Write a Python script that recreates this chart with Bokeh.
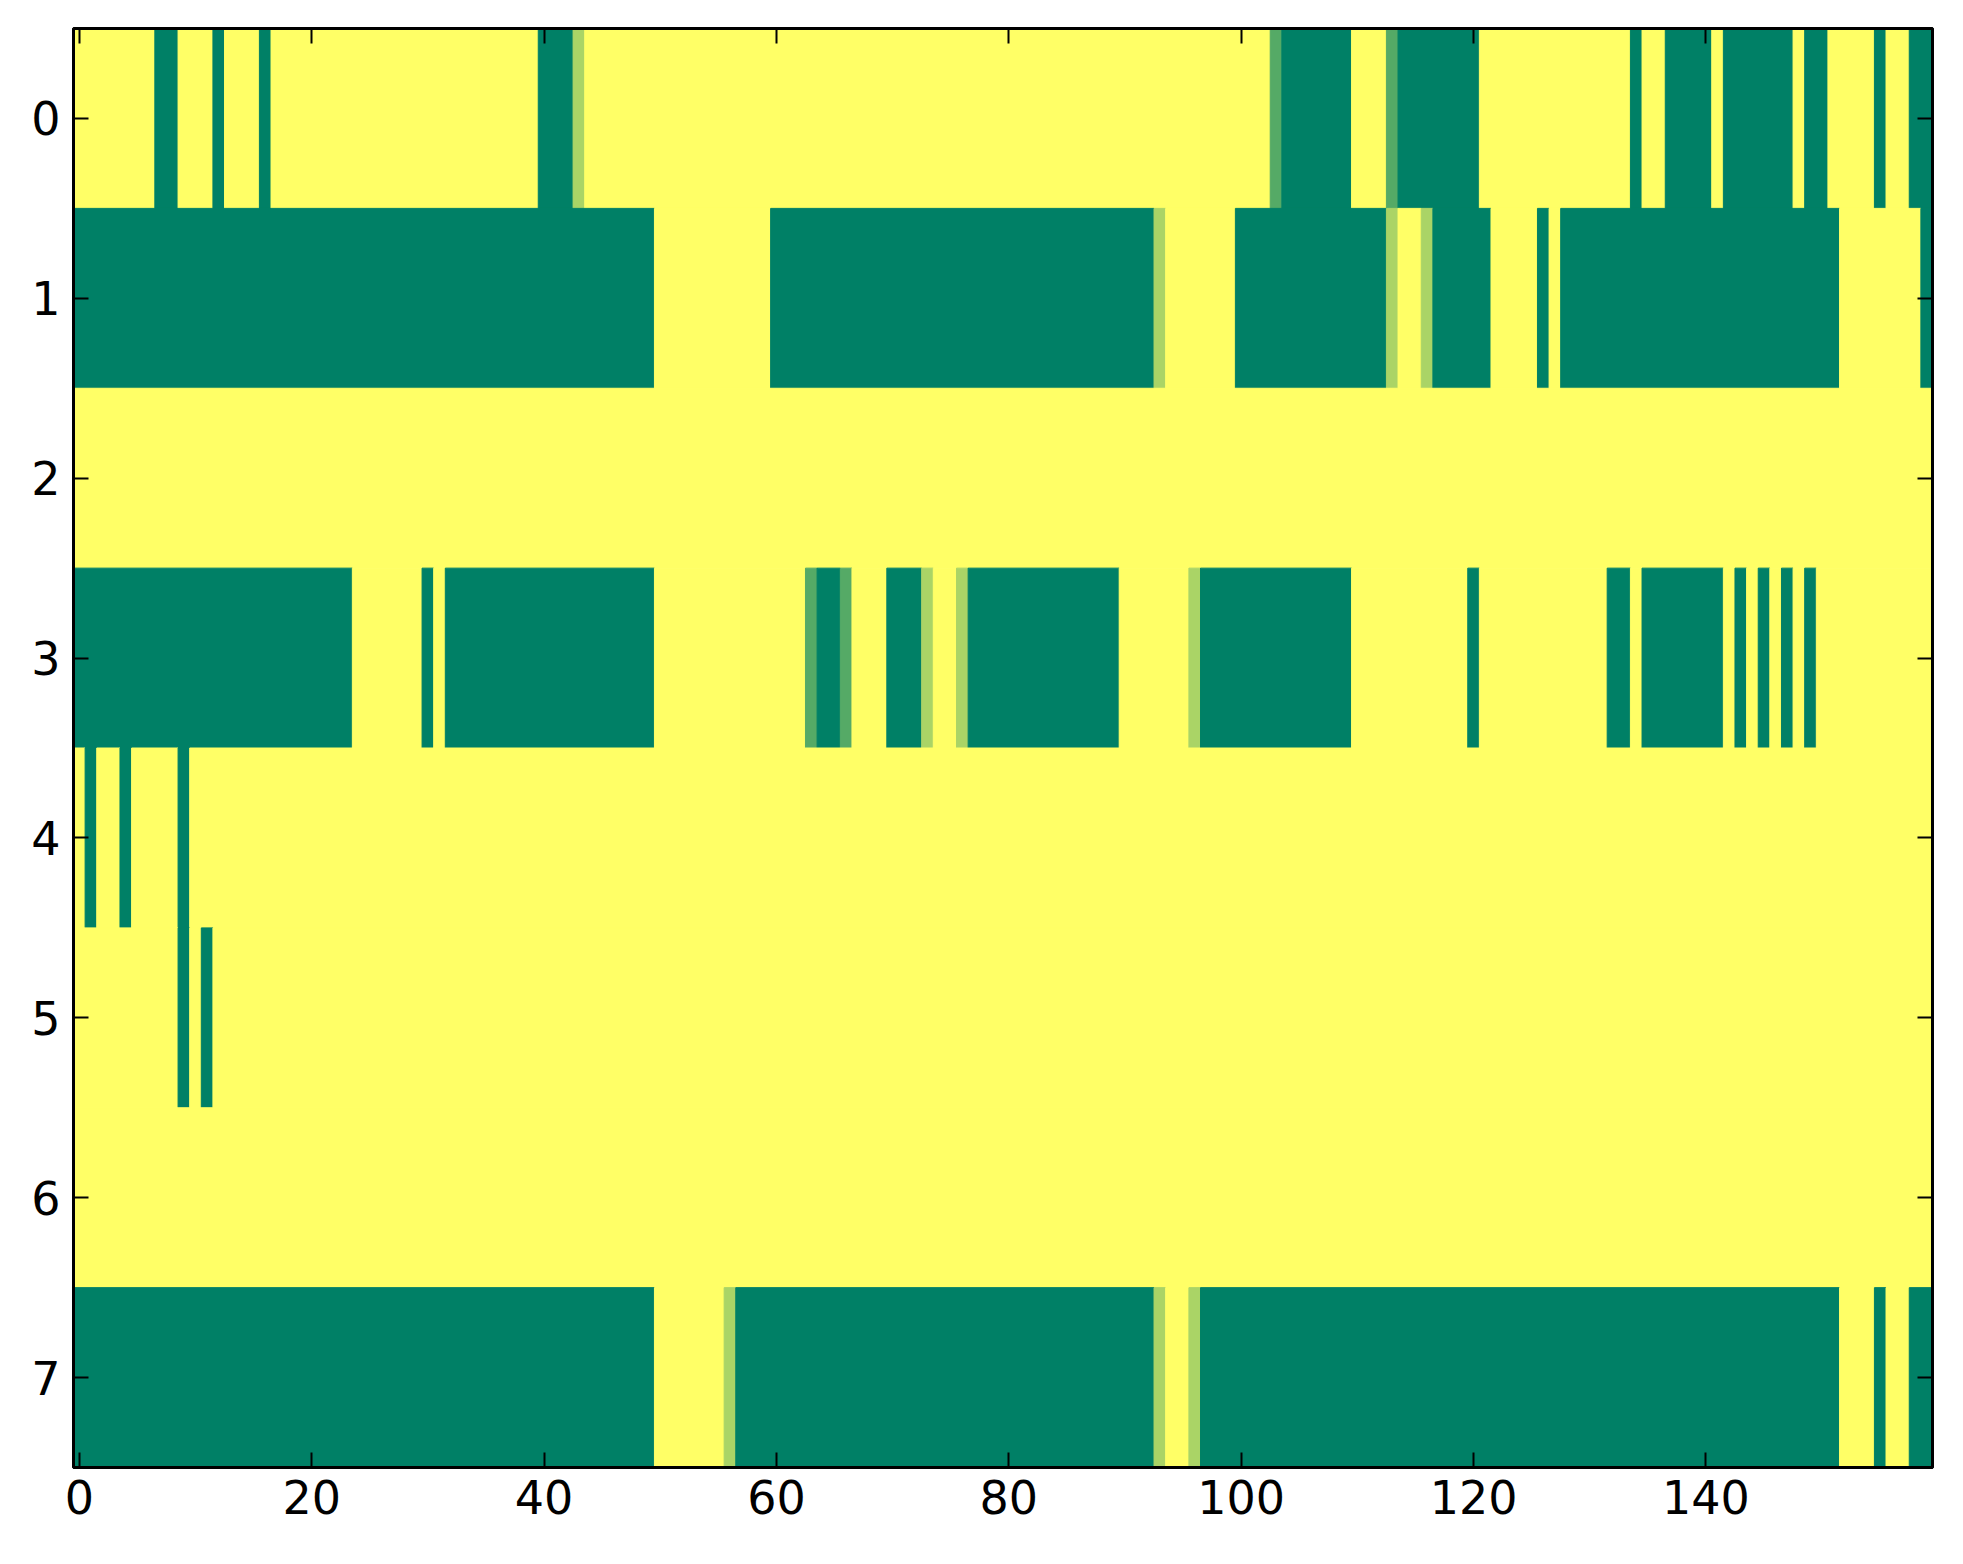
from bokeh.plotting import figure
from bokeh.models import Range1d, FixedTicker, LinearAxis, CustomJSTickFormatter, ColumnDataSource
from bokeh.embed import file_html
from bokeh.resources import INLINE

# cell values in thirds (0 = 0.0, 1 = 1/3, 2 = 2/3, 3 = 1.0), as (value, run length) per row
row0 = [(3, 7), (0, 2), (3, 3), (0, 1), (3, 3), (0, 1), (3, 23), (0, 3), (2, 1), (3, 59),
        (1, 1), (0, 6), (3, 3), (1, 1), (0, 7), (3, 13), (0, 1), (3, 2), (0, 4), (3, 1),
        (0, 6), (3, 1), (0, 2), (3, 4), (0, 1), (3, 2), (0, 2)]
row1 = [(0, 50), (3, 10), (0, 33), (2, 1), (3, 6), (0, 13), (2, 1), (3, 2), (2, 1), (0, 5),
        (3, 4), (0, 1), (3, 1), (0, 24), (3, 7), (0, 1)]
row2 = [(3, 160)]
row3 = [(0, 24), (3, 6), (0, 1), (3, 1), (0, 18), (3, 13), (1, 1), (0, 2), (1, 1), (3, 3),
        (0, 3), (2, 1), (3, 2), (2, 1), (0, 13), (3, 6), (2, 1), (0, 13), (3, 10), (0, 1),
        (3, 11), (0, 2), (3, 1), (0, 7), (3, 1), (0, 1), (3, 1), (0, 1), (3, 1), (0, 1),
        (3, 1), (0, 1), (3, 10)]
row4 = [(3, 1), (0, 1), (3, 2), (0, 1), (3, 4), (0, 1), (3, 150)]
row5 = [(3, 9), (0, 1), (3, 1), (0, 1), (3, 148)]
row6 = [(3, 160)]
row7 = [(0, 50), (3, 6), (2, 1), (0, 36), (2, 1), (3, 2), (2, 1), (0, 55), (3, 3), (0, 1),
        (3, 2), (0, 2)]
rows = [row0, row1, row2, row3, row4, row5, row6, row7]
levels = 3

x_ticks = [0, 20, 40, 60, 80, 100, 120, 140]
y_ticks = [0, 1, 2, 3, 4, 5, 6, 7]


def summer(v):
    r = int(round(255 * v))
    g = int(round(255 * (0.5 + 0.5 * v)))
    b = int(round(255 * 0.4))
    return "#%02x%02x%02x" % (r, g, b)


left, right, top, bottom, colors = [], [], [], [], []
for r, runs in enumerate(rows):
    start = 0
    for v, n in runs:
        left.append(start - 0.5)
        right.append(start + n - 0.5)
        top.append(r - 0.5)
        bottom.append(r + 0.5)
        colors.append(summer(v / levels))
        start += n

src = ColumnDataSource(dict(left=left, right=right, top=top, bottom=bottom, color=colors))

p = figure(frame_width=1859, frame_height=1439,
           x_range=Range1d(-0.5, 159.5), y_range=Range1d(7.5, -0.5),
           output_backend="svg", toolbar_location=None,
           min_border_left=73, min_border_top=28, min_border_right=17, min_border_bottom=70)
p.quad(left="left", right="right", top="top", bottom="bottom", source=src,
       fill_color="color", line_color="color", line_width=1)

p.xgrid.visible = False
p.ygrid.visible = False
p.background_fill_color = "white"
p.border_fill_color = "white"
p.outline_line_color = "black"
p.outline_line_width = 3

font = "DejaVu Sans"
for ax, ticks in ((p.xaxis[0], x_ticks), (p.yaxis[0], y_ticks)):
    ax.ticker = FixedTicker(ticks=ticks)
    ax.major_tick_in = 15
    ax.major_tick_out = 0
    ax.minor_tick_line_color = None
    ax.major_tick_line_width = 2
    ax.axis_line_width = 3
    ax.major_label_text_font = font
    ax.major_label_text_font_size = "46px"
    ax.major_label_text_color = "black"
p.xaxis[0].major_label_standoff = 12
p.yaxis[0].major_label_standoff = 13

blank = CustomJSTickFormatter(code="return ''")
top_ax = LinearAxis(ticker=FixedTicker(ticks=x_ticks), formatter=blank,
                    major_tick_in=15, major_tick_out=0, minor_tick_line_color=None,
                    major_tick_line_width=2, axis_line_width=3,
                    major_label_standoff=0, major_label_text_font_size="1px")
right_ax = LinearAxis(ticker=FixedTicker(ticks=y_ticks), formatter=blank,
                      major_tick_in=15, major_tick_out=0, minor_tick_line_color=None,
                      major_tick_line_width=2, axis_line_width=3,
                      major_label_standoff=0, major_label_text_font_size="1px")
p.add_layout(top_ax, "above")
p.add_layout(right_ax, "right")

open("out.html", "w").write(file_html(p, INLINE))
